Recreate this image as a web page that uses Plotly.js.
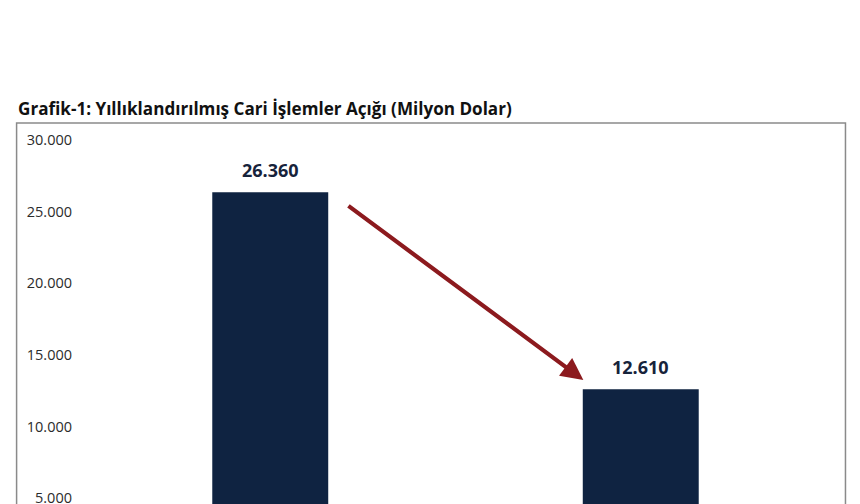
<!DOCTYPE html>
<html>
<head>
<meta charset="utf-8">
<script src="https://cdn.plot.ly/plotly-3.0.1.min.js"></script>
<style>
html,body{margin:0;padding:0;background:#fff;overflow:hidden;width:860px;height:504px;}
#chart{width:860px;height:570px;}
</style>
</head>
<body>
<div id="chart"></div>
<script>
const categories = ["Dönem 1", "Dönem 2"];
const values = [26360, 12610];
const tickValues = [0, 5000, 10000, 15000, 20000, 25000, 30000];
const titleText = "Grafik-1: Yıllıklandırılmış Cari İşlemler Açığı (Milyon Dolar)";

const barColor = "#0f2341";
const labelColor = "#17233b";
const H = 570, TOP = 140;
const plotH = H - TOP;

const trace = {
  type: "bar",
  x: categories,
  y: values,
  marker: {color: barColor},
  width: 0.313,
  hoverinfo: "none",
  cliponaxis: true
};

const annotations = categories.map((c, i) => ({
  x: c, y: values[i], xref: "x", yref: "y",
  text: "<b>" + values[i].toLocaleString("de-DE") + "</b>",
  showarrow: false, yanchor: "bottom", yshift: 8,
  font: {family: "Open Sans, sans-serif", size: 18, color: labelColor}
}));

annotations.push({
  xref: "x", yref: "y", axref: "x", ayref: "y",
  x: 0.845, y: 13250,
  ax: 0.207, ay: 25480,
  text: "", showarrow: true,
  arrowhead: 2, arrowsize: 1.05, arrowwidth: 4.2, arrowcolor: "#8c1a1e",
  standoff: 0, startstandoff: 0
});

annotations.push({
  xref: "paper", yref: "paper", x: (15 - 84.5) / 742, y: (H - 108) / plotH,
  xanchor: "left", yanchor: "middle",
  text: "<b>" + titleText + "</b>", showarrow: false,
  font: {family: "Open Sans, sans-serif", size: 17.1, color: "#111111"}
});

const layout = {
  width: 860, height: H,
  margin: {l: 84.5, r: 33.5, t: TOP, b: 0, pad: 0},
  paper_bgcolor: "#ffffff",
  plot_bgcolor: "rgba(0,0,0,0)",
  separators: ",.",
  showlegend: false,
  xaxis: {
    type: "category",
    range: [-0.5, 1.5],
    showgrid: false, zeroline: false, showline: false, showticklabels: false, ticks: ""
  },
  yaxis: {
    range: [0, 30000],
    tickvals: tickValues,
    tickformat: ",d",
    showgrid: false, zeroline: false, showline: false, ticks: "",
    ticklabelstandoff: 12,
    tickfont: {family: "Open Sans, sans-serif", size: 14.5, color: "#2b2b2b"}
  },
  shapes: [{
    type: "rect", xref: "paper", yref: "paper",
    x0: (16 - 84.5) / 742, x1: (846 - 84.5) / 742,
    y0: -0.2, y1: (H - 123) / plotH,
    line: {color: "#8a8a8a", width: 1.5},
    fillcolor: "rgba(0,0,0,0)", layer: "below"
  }],
  annotations: annotations
};

Plotly.newPlot("chart", [trace], layout, {displayModeBar: false, staticPlot: true});
</script>
</body>
</html>
